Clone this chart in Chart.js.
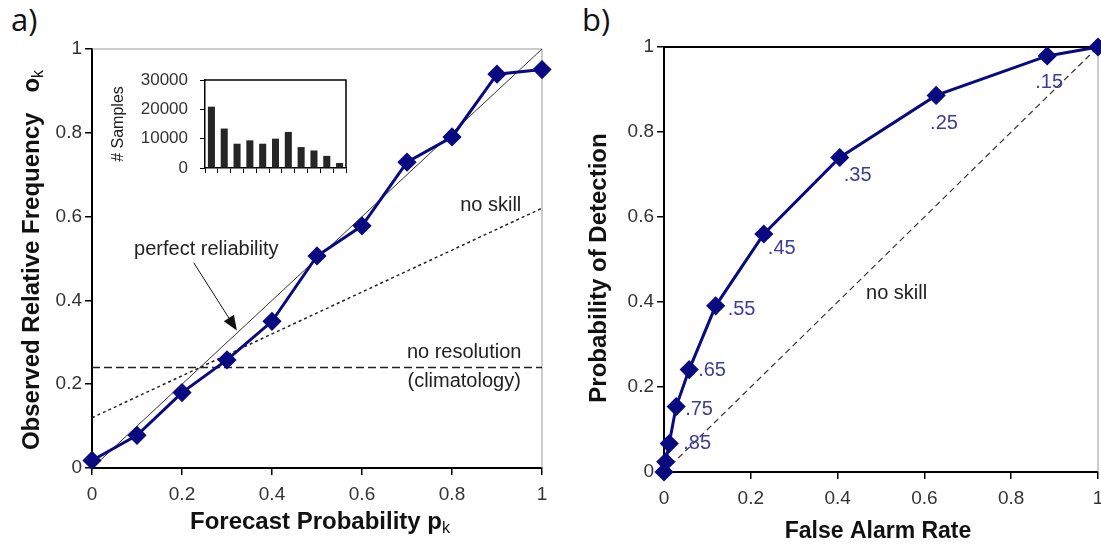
<!DOCTYPE html>
<html>
<head>
<meta charset="utf-8">
<title>Reliability and ROC diagrams</title>
<script src="https://cdn.jsdelivr.net/npm/chart.js@4.4.0/dist/chart.umd.min.js"></script>
<style>
  body { margin: 0; width: 1101px; height: 555px; overflow: hidden; background: #fff; position: relative; }
  .box { position: absolute; }
  .tag { position: absolute; font-family: "Open Sans", sans-serif; font-size: 31px; color: #111; line-height: 1; }
</style>
</head>
<body>
<div class="tag" style="left:11px;top:4px">a)</div>
<div class="tag" style="left:582px;top:4px">b)</div>
<div class="box" style="left:0;top:0;width:560px;height:555px"><canvas id="relChart"></canvas></div>
<div class="box" style="left:560px;top:0;width:541px;height:555px"><canvas id="rocChart"></canvas></div>
<div class="box" style="left:100px;top:60px;width:260px;height:125px"><canvas id="histChart"></canvas></div>
<script>
// reliability diagram (panel a)
const forecastProb = [0, 0.1, 0.2, 0.3, 0.4, 0.5, 0.6, 0.7, 0.8, 0.9, 1];
const observedFreq = [0.018, 0.078, 0.18, 0.258, 0.35, 0.506, 0.578, 0.73, 0.79, 0.94, 0.951];
const climatology = 0.24;

// inset histogram
const sampleCounts = [20900, 13450, 8280, 9430, 8280, 10000, 12300, 7130, 5980, 4140, 1720];
const sampleTicks = [0, 10000, 20000, 30000];

// ROC curve (panel b)
const falseAlarmRate = [0, 0.004, 0.012, 0.028, 0.058, 0.119, 0.23, 0.405, 0.627, 0.883, 1];
const probDetection = [0, 0.024, 0.067, 0.154, 0.241, 0.391, 0.56, 0.74, 0.886, 0.979, 1];
const thresholdLabels = ["", "", ".85", ".75", ".65", ".55", ".45", ".35", ".25", ".15", ""];

const axisTicks = [0, 0.2, 0.4, 0.6, 0.8, 1];

// styling
const NAVY = "#0a0a80";
const LABEL_BLUE = "#3c3c9c";
const TICK_FONT = { family: "Liberation Sans", size: 19 };
const TEXT_FONT = '20px "Liberation Sans"';
// pixel nudges for the threshold labels (left edge, vertical centre)
const labelOffsets = [null, null, [14, 0], [9, 3], [9, 1], [12, 4], [4, 14], [4, 18], [-6, 28], [-12, 27]];

Chart.defaults.animation = false;
Chart.defaults.plugins.legend.display = false;
Chart.defaults.plugins.tooltip.enabled = false;

// keep the plot box exactly where the axis box says, no room for half labels
function fixSize(s, size) {
  if (s.isHorizontal()) s.height = size; else s.width = size;
  s.paddingLeft = 0;
  s.paddingRight = 0;
  s.paddingTop = 0;
  s.paddingBottom = 0;
}

function unitAxis(size, horizontal) {
  return {
    type: "linear",
    min: 0,
    max: 1,
    afterBuildTicks: (s) => { s.ticks = axisTicks.map((v) => ({ value: v })); },
    afterFit: (s) => fixSize(s, size),
    ticks: { font: TICK_FONT, color: "#333", padding: horizontal ? 8 : 3, callback: (v) => String(v) },
    grid: { drawOnChartArea: false, drawTicks: true, tickLength: 7, color: "#000", lineWidth: 1.5 },
    border: { color: "#000", width: 2 }
  };
}

function rotatedTitle(ctx, x, y, main, sub, font, subFont) {
  ctx.save();
  ctx.translate(x, y);
  ctx.rotate(-Math.PI / 2);
  subTitle(ctx, 0, 0, main, sub, font, subFont);
  ctx.restore();
}

function subTitle(ctx, x, y, main, sub, font, subFont) {
  ctx.font = font;
  const w1 = ctx.measureText(main).width;
  ctx.font = subFont;
  const w2 = sub ? ctx.measureText(sub).width : 0;
  const start = x - (w1 + w2) / 2;
  ctx.fillStyle = "#111";
  ctx.textAlign = "left";
  ctx.textBaseline = "middle";
  ctx.font = font;
  ctx.fillText(main, start, y);
  if (sub) {
    ctx.font = subFont;
    ctx.fillText(sub, start + w1, y + 7);
  }
}

function label(ctx, text, x, y, align, color) {
  ctx.font = TEXT_FONT;
  ctx.fillStyle = color || "#222";
  ctx.textAlign = align || "center";
  ctx.textBaseline = "middle";
  ctx.fillText(text, x, y);
}

function frame(ctx, area, topColor, topWidth) {
  ctx.save();
  ctx.strokeStyle = topColor;
  ctx.lineWidth = topWidth;
  ctx.beginPath();
  ctx.moveTo(area.left, area.top);
  ctx.lineTo(area.right, area.top);
  ctx.stroke();
  ctx.strokeStyle = "#999";
  ctx.lineWidth = 1;
  ctx.beginPath();
  ctx.moveTo(area.right, area.top);
  ctx.lineTo(area.right, area.bottom);
  ctx.stroke();
  ctx.restore();
}

const relExtras = {
  id: "relExtras",
  beforeDatasetsDraw(chart) {
    frame(chart.ctx, chart.chartArea, "#999", 1);
  },
  afterDraw(chart) {
    const ctx = chart.ctx;
    const x = chart.scales.x, y = chart.scales.y;
    label(ctx, "perfect reliability", x.getPixelForValue(0.254), y.getPixelForValue(0.522));
    label(ctx, "no skill", x.getPixelForValue(0.886), y.getPixelForValue(0.627));
    label(ctx, "no resolution", x.getPixelForValue(0.827), y.getPixelForValue(0.275));
    label(ctx, "(climatology)", x.getPixelForValue(0.827), y.getPixelForValue(0.206));

    // arrow pointing at the perfect reliability line
    const x0 = x.getPixelForValue(0.226), y0 = y.getPixelForValue(0.49);
    const x1 = x.getPixelForValue(0.322), y1 = y.getPixelForValue(0.328);
    const ang = Math.atan2(y1 - y0, x1 - x0);
    ctx.save();
    ctx.strokeStyle = "#111";
    ctx.lineWidth = 1;
    ctx.beginPath();
    ctx.moveTo(x0, y0);
    ctx.lineTo(x1 - 10 * Math.cos(ang), y1 - 10 * Math.sin(ang));
    ctx.stroke();
    ctx.fillStyle = "#111";
    ctx.beginPath();
    ctx.moveTo(x1, y1);
    ctx.lineTo(x1 - 15 * Math.cos(ang) + 6 * Math.sin(ang), y1 - 15 * Math.sin(ang) - 6 * Math.cos(ang));
    ctx.lineTo(x1 - 15 * Math.cos(ang) - 6 * Math.sin(ang), y1 - 15 * Math.sin(ang) + 6 * Math.cos(ang));
    ctx.closePath();
    ctx.fill();
    ctx.restore();

    rotatedTitle(ctx, 32, 260, "Observed Relative Frequency   o", "k",
      'bold 24px "Liberation Sans"', '16px "Liberation Sans"');
    subTitle(ctx, 320, 522, "Forecast Probability p", "k",
      'bold 24px "Liberation Sans"', '16px "Liberation Sans"');
  }
};

new Chart(document.getElementById("relChart"), {
  type: "scatter",
  data: {
    datasets: [
      {
        data: forecastProb.map((p, i) => ({ x: p, y: observedFreq[i] })),
        showLine: true,
        borderColor: NAVY,
        backgroundColor: NAVY,
        borderWidth: 3,
        pointStyle: "rectRot",
        pointRadius: 7.5,
        clip: false
      },
      {
        data: [{ x: 0, y: 0 }, { x: 1, y: 1 }],
        showLine: true,
        borderColor: "#333",
        borderWidth: 1,
        pointRadius: 0
      },
      {
        data: [{ x: 0, y: climatology / 2 }, { x: 1, y: (1 + climatology) / 2 }],
        showLine: true,
        borderColor: "#222",
        borderWidth: 1.5,
        borderDash: [3, 3],
        pointRadius: 0
      },
      {
        data: [{ x: 0, y: climatology }, { x: 1, y: climatology }],
        showLine: true,
        borderColor: "#222",
        borderWidth: 1.5,
        borderDash: [8, 4],
        pointRadius: 0
      }
    ]
  },
  options: {
    responsive: true,
    maintainAspectRatio: false,
    layout: { autoPadding: false, padding: { top: 49, right: 18, left: 0, bottom: 0 } },
    scales: {
      x: unitAxis(87, true),
      y: unitAxis(92, false)
    }
  },
  plugins: [relExtras]
});

const histExtras = {
  id: "histExtras",
  afterDraw(chart) {
    const ctx = chart.ctx, a = chart.chartArea;
    ctx.save();
    ctx.strokeStyle = "#000";
    ctx.lineWidth = 1.5;
    ctx.beginPath();
    ctx.moveTo(a.left, a.top);
    ctx.lineTo(a.right, a.top);
    ctx.lineTo(a.right, a.bottom);
    ctx.stroke();
    ctx.translate(19, (a.top + a.bottom) / 2);
    ctx.rotate(-Math.PI / 2);
    ctx.font = '16px "Liberation Sans"';
    ctx.fillStyle = "#222";
    ctx.textAlign = "center";
    ctx.textBaseline = "middle";
    ctx.fillText("# Samples", 0, 0);
    ctx.restore();
  }
};

new Chart(document.getElementById("histChart"), {
  type: "bar",
  data: {
    labels: sampleCounts.map((_, i) => String(i + 1)),
    datasets: [
      {
        data: sampleCounts,
        backgroundColor: "#262626",
        barPercentage: 0.55,
        categoryPercentage: 1
      }
    ]
  },
  options: {
    responsive: true,
    maintainAspectRatio: false,
    layout: { autoPadding: false, padding: { top: 20, right: 14, left: 0, bottom: 0 } },
    scales: {
      x: {
        afterFit: (s) => fixSize(s, 17),
        ticks: { display: false, autoSkip: false },
        grid: { offset: true, drawOnChartArea: false, tickLength: 5, color: "#000", lineWidth: 1 },
        border: { color: "#000", width: 1.5 }
      },
      y: {
        min: 0,
        max: 30000,
        afterBuildTicks: (s) => { s.ticks = sampleTicks.map((v) => ({ value: v })); },
        afterFit: (s) => fixSize(s, 105),
        ticks: { font: { family: "Liberation Sans", size: 17 }, color: "#333", padding: 12, callback: (v) => String(v) },
        grid: { drawOnChartArea: false, tickLength: 5, color: "#000", lineWidth: 1 },
        border: { color: "#000", width: 1.5 }
      }
    }
  },
  plugins: [histExtras]
});

const rocExtras = {
  id: "rocExtras",
  beforeDatasetsDraw(chart) {
    frame(chart.ctx, chart.chartArea, "#000", 2);
  },
  afterDraw(chart) {
    const ctx = chart.ctx;
    const x = chart.scales.x, y = chart.scales.y;
    const pts = chart.getDatasetMeta(0).data;
    thresholdLabels.forEach((t, i) => {
      if (!t) return;
      const off = labelOffsets[i];
      label(ctx, t, pts[i].x + off[0], pts[i].y + off[1], "left", LABEL_BLUE);
    });
    label(ctx, "no skill", x.getPixelForValue(0.536), y.getPixelForValue(0.421));
    rotatedTitle(ctx, 39, 268, "Probability of Detection", "",
      'bold 24px "Liberation Sans"', '16px "Liberation Sans"');
    subTitle(ctx, 318, 532, "False Alarm Rate", "",
      'bold 23px "Liberation Sans"', '16px "Liberation Sans"');
  }
};

new Chart(document.getElementById("rocChart"), {
  type: "scatter",
  data: {
    datasets: [
      {
        data: falseAlarmRate.map((f, i) => ({ x: f, y: probDetection[i] })),
        showLine: true,
        borderColor: NAVY,
        backgroundColor: NAVY,
        borderWidth: 3,
        pointStyle: "rectRot",
        pointRadius: 7.5,
        clip: false
      },
      {
        data: [{ x: 0, y: 0 }, { x: 1, y: 1 }],
        showLine: true,
        borderColor: "#333",
        borderWidth: 1.2,
        borderDash: [6, 4],
        pointRadius: 0
      }
    ]
  },
  options: {
    responsive: true,
    maintainAspectRatio: false,
    layout: { autoPadding: false, padding: { top: 47, right: 3, left: 0, bottom: 0 } },
    scales: {
      x: unitAxis(83, true),
      y: unitAxis(104, false)
    }
  },
  plugins: [rocExtras]
});
</script>
</body>
</html>
